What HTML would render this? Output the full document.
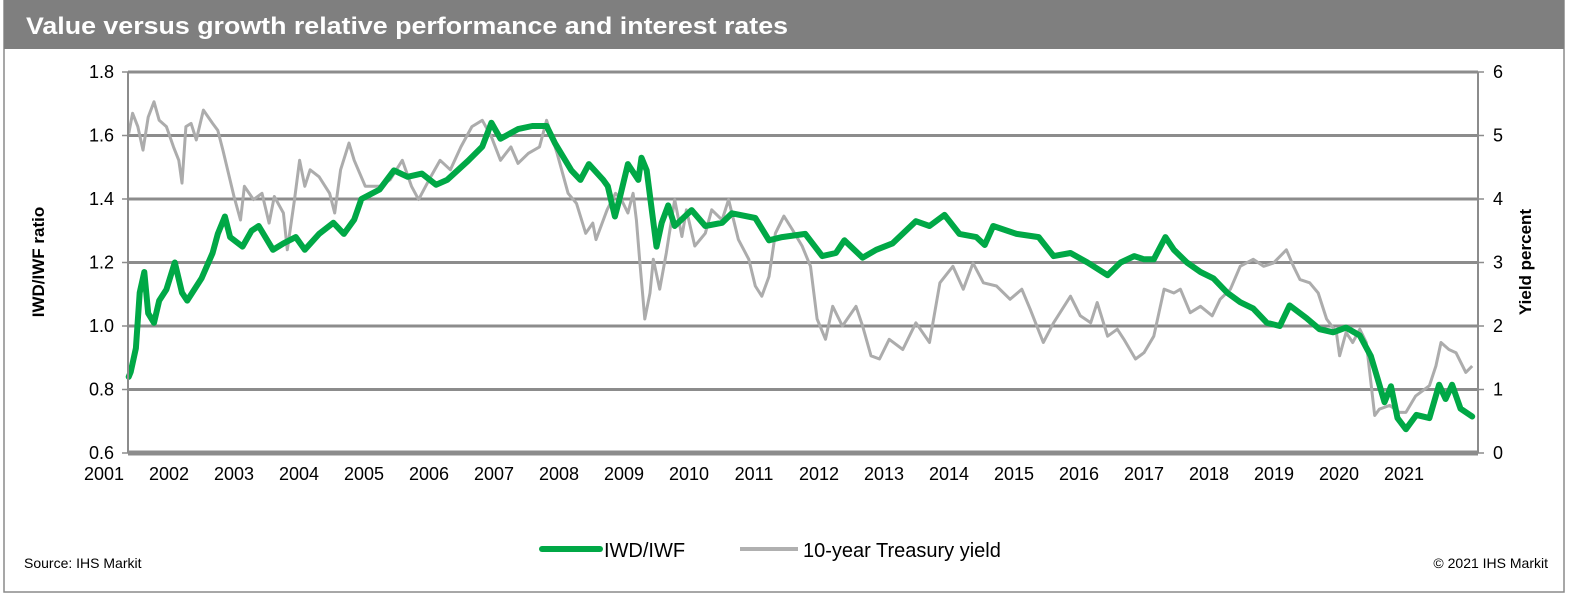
<!DOCTYPE html>
<html><head><meta charset="utf-8"><style>
html,body{margin:0;padding:0;background:#fff;}
svg{display:block;font-family:"Liberation Sans",Arial,sans-serif;}
</style></head><body>
<svg id="chart" width="1576" height="599" viewBox="0 0 1576 599">
<rect x="4" y="0" width="1560" height="592" fill="#fff" stroke="#8a8a8a" stroke-width="1.5"/>
<rect x="4" y="0" width="1560" height="49" fill="#7f7f7f"/>
<text x="26" y="34" fill="#fff" font-size="24" font-weight="bold" textLength="762" lengthAdjust="spacingAndGlyphs">Value versus growth relative performance and interest rates</text>
<g id="grid"></g>
<g id="series"></g>
<g id="axes"></g>
<text transform="translate(44,262) rotate(-90)" text-anchor="middle" font-size="17" font-weight="bold">IWD/IWF ratio</text>
<text transform="translate(1531,262) rotate(-90)" text-anchor="middle" font-size="17" font-weight="bold">Yield percent</text>
<g>
<g>
<line x1="542" y1="549" x2="600" y2="549" stroke="#00a846" stroke-width="6" stroke-linecap="round"/>
<text x="604" y="557" font-size="20">IWD/IWF</text>
</g>
<g>
<line x1="740" y1="549" x2="798" y2="549" stroke="#b0b0b0" stroke-width="4"/>
<text x="803" y="557" font-size="20">10-year Treasury yield</text>
</g>
</g>
<text x="24" y="568" font-size="14">Source: IHS Markit</text>
<text x="1548" y="568" font-size="14" text-anchor="end">© 2021 IHS Markit</text>
</svg>
<script>
const ratioDates=[2001.38,2001.41,2001.49,2001.55,2001.62,2001.68,2001.77,2001.85,2001.96,2002.09,2002.20,2002.28,2002.50,2002.67,2002.75,2002.86,2002.94,2003.13,2003.27,2003.38,2003.60,2003.76,2003.95,2004.09,2004.31,2004.53,2004.69,2004.85,2004.96,2005.24,2005.46,2005.67,2005.89,2006.11,2006.28,2006.60,2006.82,2006.96,2007.10,2007.37,2007.59,2007.81,2007.94,2008.19,2008.33,2008.46,2008.68,2008.75,2008.86,2008.93,2009.06,2009.22,2009.27,2009.35,2009.50,2009.58,2009.68,2009.78,2010.04,2010.25,2010.51,2010.66,2011.02,2011.23,2011.43,2011.79,2012.05,2012.26,2012.39,2012.67,2012.88,2013.13,2013.49,2013.70,2013.93,2014.16,2014.42,2014.55,2014.68,2015.04,2015.38,2015.61,2015.87,2016.13,2016.44,2016.64,2016.85,2017.0,2017.15,2017.33,2017.46,2017.66,2017.87,2018.07,2018.28,2018.48,2018.68,2018.89,2019.09,2019.24,2019.5,2019.7,2019.91,2020.11,2020.32,2020.49,2020.6,2020.7,2020.8,2020.9,2021.03,2021.19,2021.39,2021.54,2021.64,2021.74,2021.87,2022.05];
const ratioValues=[0.84,0.855,0.93,1.105,1.17,1.04,1.01,1.08,1.115,1.2,1.105,1.08,1.15,1.23,1.29,1.345,1.28,1.25,1.30,1.315,1.24,1.26,1.28,1.24,1.29,1.325,1.29,1.335,1.40,1.43,1.49,1.47,1.48,1.445,1.46,1.52,1.565,1.64,1.59,1.62,1.63,1.63,1.575,1.49,1.46,1.51,1.46,1.44,1.345,1.40,1.51,1.46,1.53,1.49,1.25,1.325,1.38,1.315,1.365,1.315,1.325,1.355,1.34,1.27,1.28,1.29,1.22,1.23,1.27,1.215,1.24,1.26,1.33,1.315,1.35,1.29,1.28,1.255,1.315,1.29,1.28,1.22,1.23,1.2,1.16,1.2,1.22,1.21,1.21,1.28,1.24,1.2,1.17,1.15,1.105,1.075,1.055,1.01,1.0,1.065,1.025,0.99,0.98,0.995,0.97,0.905,0.83,0.76,0.81,0.71,0.675,0.72,0.71,0.815,0.77,0.815,0.74,0.715];
const yieldDates=[2001.38,2001.44,2001.52,2001.60,2001.68,2001.77,2001.85,2001.96,2002.07,2002.15,2002.20,2002.26,2002.34,2002.42,2002.53,2002.67,2002.75,2002.83,2003.00,2003.10,2003.16,2003.30,2003.43,2003.54,2003.62,2003.76,2003.82,2003.93,2004.01,2004.09,2004.17,2004.31,2004.47,2004.55,2004.64,2004.77,2004.85,2005.02,2005.24,2005.40,2005.59,2005.73,2005.84,2006.00,2006.17,2006.33,2006.49,2006.66,2006.82,2006.96,2007.10,2007.26,2007.37,2007.53,2007.70,2007.81,2007.97,2008.14,2008.27,2008.41,2008.52,2008.57,2008.74,2008.87,2008.96,2009.06,2009.14,2009.19,2009.24,2009.32,2009.40,2009.45,2009.55,2009.65,2009.78,2009.89,2009.96,2010.09,2010.25,2010.35,2010.51,2010.61,2010.76,2010.92,2011.02,2011.12,2011.23,2011.33,2011.46,2011.59,2011.74,2011.87,2011.97,2012.10,2012.21,2012.36,2012.57,2012.67,2012.80,2012.93,2013.08,2013.29,2013.49,2013.70,2013.86,2014.06,2014.22,2014.37,2014.53,2014.73,2014.94,2015.12,2015.25,2015.45,2015.61,2015.87,2016.02,2016.18,2016.28,2016.44,2016.59,2016.69,2016.87,2017.0,2017.15,2017.31,2017.46,2017.56,2017.71,2017.87,2018.05,2018.17,2018.33,2018.48,2018.68,2018.84,2018.99,2019.19,2019.30,2019.40,2019.55,2019.68,2019.81,2019.96,2020.01,2020.11,2020.21,2020.32,2020.42,2020.55,2020.62,2020.78,2020.93,2021.03,2021.18,2021.39,2021.49,2021.57,2021.69,2021.80,2021.95,2022.05];
const yieldValues=[5.03,5.35,5.14,4.77,5.29,5.53,5.24,5.14,4.82,4.61,4.25,5.14,5.19,4.93,5.4,5.19,5.08,4.77,4.04,3.67,4.2,3.99,4.09,3.62,4.04,3.78,3.2,3.99,4.61,4.2,4.46,4.35,4.09,3.78,4.46,4.88,4.61,4.2,4.2,4.3,4.61,4.2,3.99,4.3,4.61,4.46,4.82,5.14,5.24,4.98,4.61,4.82,4.56,4.72,4.82,5.24,4.72,4.09,3.93,3.46,3.62,3.36,3.83,4.09,3.99,3.78,4.09,3.67,3.05,2.11,2.52,3.05,2.58,3.15,3.99,3.41,3.83,3.26,3.46,3.83,3.67,3.99,3.36,3.05,2.63,2.47,2.78,3.46,3.73,3.52,3.26,2.94,2.11,1.79,2.31,2.0,2.31,2.0,1.53,1.48,1.79,1.63,2.05,1.74,2.68,2.94,2.58,2.99,2.68,2.63,2.42,2.58,2.26,1.74,2.05,2.47,2.16,2.05,2.37,1.84,1.95,1.79,1.48,1.58,1.84,2.58,2.52,2.58,2.21,2.31,2.16,2.42,2.58,2.94,3.05,2.94,2.99,3.2,2.94,2.73,2.68,2.52,2.11,1.9,1.53,1.9,1.74,1.95,1.74,0.59,0.69,0.75,0.64,0.64,0.9,1.06,1.37,1.74,1.63,1.58,1.27,1.37];
const leftTicks=[0.6,0.8,1.0,1.2,1.4,1.6,1.8];
const rightTicks=[0,1,2,3,4,5,6];
const yearLabels=[2001,2002,2003,2004,2005,2006,2007,2008,2009,2010,2011,2012,2013,2014,2015,2016,2017,2018,2019,2020,2021];

const NS='http://www.w3.org/2000/svg';
const PL=128,PR=1478,PT=72,PB=453;
function xS(t){return 104+(t-2001)*65.0;}
function yL(v){return PB-(v-0.6)/1.2*(PB-PT);}
function yR(v){return PB-v/6*(PB-PT);}
function mk(tag,attrs,parent){const e=document.createElementNS(NS,tag);for(const k in attrs)e.setAttribute(k,attrs[k]);parent.appendChild(e);return e;}
const grid=document.getElementById('grid'),axes=document.getElementById('axes'),series=document.getElementById('series');

leftTicks.forEach((v,i)=>{
  const y=yL(v);
  if(i>0){
    const g=mk('line',{x1:PL,x2:PR,y1:y,y2:y,stroke:'#8c8c8c','stroke-width':3},grid);
    
    
  }
  const tk=mk('line',{x1:PL-6,x2:PL,y1:y,y2:y,stroke:'#8c8c8c','stroke-width':1.5},axes);
  
  
  const t=mk('text',{x:PL-14,y:y+6,'text-anchor':'end','font-size':18},axes);
  t.textContent=v.toFixed(1);
  
  
});
rightTicks.forEach(v=>{
  const y=yR(v);
  const tk=mk('line',{x1:PR,x2:PR+6,y1:y,y2:y,stroke:'#8c8c8c','stroke-width':1.5},axes);
  
  
  const t=mk('text',{x:PR+15,y:y+6,'font-size':18},axes);
  t.textContent=String(v);
  
  
});
yearLabels.forEach(yr=>{
  const t=mk('text',{x:xS(yr),y:480,'text-anchor':'middle','font-size':18},axes);
  t.textContent=String(yr);
  
  
});
const la=mk('line',{x1:PL,x2:PL,y1:PT,y2:PB,stroke:'#8c8c8c','stroke-width':2},axes);


const ra=mk('line',{x1:PR,x2:PR,y1:PT,y2:PB,stroke:'#8c8c8c','stroke-width':2},axes);


const xa=mk('line',{x1:PL,x2:PR,y1:PB,y2:PB,stroke:'#8c8c8c','stroke-width':5},axes);



function pathFrom(ds,vs,ys){return ds.map((d,i)=>(i?'L':'M')+Math.min(PR,Math.max(PL,xS(d))).toFixed(1)+','+ys(vs[i]).toFixed(1)).join('');}
const yl=mk('path',{d:pathFrom(yieldDates,yieldValues,yR),fill:'none',stroke:'#acacac','stroke-width':3,'stroke-linejoin':'round'},series);


const gl=mk('path',{d:pathFrom(ratioDates,ratioValues,yL),fill:'none',stroke:'#00a846','stroke-width':6,'stroke-linejoin':'round','stroke-linecap':'round'},series);


</script>
</body></html>
